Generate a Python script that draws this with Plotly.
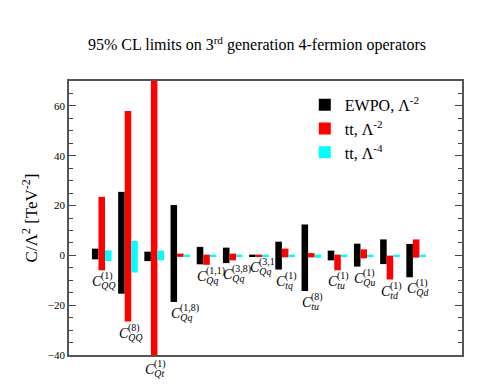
import plotly.graph_objects as go

# operator labels: (subscript, superscript)
op_sub = ["QQ", "QQ", "Qt", "Qq", "Qq", "Qq", "Qq", "tq", "tu", "tu", "Qu", "td", "Qd"]
op_sup = ["(1)", "(8)", "(1)", "(1,8)", "(1,1)", "(3,8)", "(3,1)", "(1)", "(8)", "(1)", "(1)", "(1)", "(1)"]
positions = list(range(1, 14))

# 95% CL intervals [low, high]
ewpo_low = [-1.6, -15.4, -2.3, -18.7, -3.6, -3.1, -0.4, -5.7, -14.3, -2.0, -4.5, -3.5, -8.8]
ewpo_high = [2.7, 25.5, 1.5, 20.2, 3.4, 3.1, 0.3, 5.5, 12.4, 1.9, 4.7, 6.4, 4.6]
tt2_low = [-6.0, -26.6, -90.0, -0.6, -3.8, -2.0, -0.4, -0.8, -0.8, -6.0, -1.2, -9.7, -0.9]
tt2_high = [23.5, 58.0, 90.0, 0.7, 0.3, 0.7, 0.3, 2.7, 0.9, 0.3, 2.4, -0.1, 6.4]
tt4_low = [-2.3, -6.9, -2.0, -0.4, -0.5, -0.5, -0.4, -0.5, -1.0, -0.5, -0.5, -0.5, -0.5]
tt4_high = [2.0, 5.8, 1.9, 0.3, 0.3, 0.3, 0.3, 0.3, 0.3, 0.3, 0.3, 0.3, 0.3]

FONT = "Liberation Serif"
Y_MIN, Y_MAX = -40, 70

series = [
    ("EWPO, Λ<sup>-2</sup>", ewpo_low, ewpo_high, "#000000", 0.0),
    ("tt, Λ<sup>-2</sup>", tt2_low, tt2_high, "#ff0000", 0.25),
    ("tt, Λ<sup>-4</sup>", tt4_low, tt4_high, "#00ffff", 0.5),
]

fig = go.Figure()
for name, low, high, color, shift in series:
    fig.add_trace(go.Bar(
        x=[p + shift for p in positions],
        y=[h - l for l, h in zip(low, high)],
        base=low,
        width=0.25,
        name=name,
        marker=dict(color=color, line=dict(width=0)),
    ))

# operator labels under each group: C with subscript, superscript stacked above the subscript
for i, pos in enumerate(positions):
    lowest = min(ewpo_low[i], tt2_low[i], tt4_low[i])
    y = max(lowest, Y_MIN)
    dy = -3 if y == Y_MIN else 0
    fig.add_annotation(
        x=pos + 0.2, y=y, text="<i>C</i><sub><i>" + op_sub[i] + "</i></sub>",
        showarrow=False, xanchor="left", yanchor="top", xshift=-10, yshift=dy - 2,
        font=dict(family=FONT, size=14, color="#000000"),
    )
    fig.add_annotation(
        x=pos + 0.2, y=y, text=op_sup[i],
        showarrow=False, xanchor="left", yanchor="top", xshift=-1, yshift=dy + 2,
        font=dict(family=FONT, size=10, color="#000000"),
    )

fig.update_layout(
    width=498, height=388,
    margin=dict(l=61, r=44, t=73, b=41),
    paper_bgcolor="white", plot_bgcolor="white",
    barmode="overlay",
    font=dict(family=FONT, color="#000000"),
    title=dict(
        text="95% CL limits on 3<sup>rd</sup> generation 4-fermion operators",
        x=0.5, xanchor="center", y=0.905, yanchor="middle",
        font=dict(family=FONT, size=16, color="#000000"),
    ),
    showlegend=True,
    legend=dict(
        x=0.6, y=0.975, xanchor="left", yanchor="top",
        bgcolor="rgba(0,0,0,0)", font=dict(family=FONT, size=16),
        itemwidth=30,
    ),
    xaxis=dict(
        range=[0, 15], showticklabels=False, ticks="", showgrid=False, zeroline=False,
        showline=True, linecolor="#555555", linewidth=1.5, mirror=True,
    ),
    yaxis=dict(
        range=[Y_MIN, Y_MAX], tickvals=[-40, -20, 0, 20, 40, 60],
        ticks="inside", ticklen=7, tickcolor="#444444", tickwidth=1,
        minor=dict(dtick=5, ticks="inside", ticklen=4, tickcolor="#444444"),
        showgrid=False, zeroline=False,
        showline=True, linecolor="#555555", linewidth=1.5, mirror="ticks",
        tickfont=dict(family=FONT, size=11),
        title=dict(text="C/Λ<sup>2</sup> [TeV<sup>-2</sup>]", font=dict(family=FONT, size=17), standoff=6),
    ),
)

fig.write_html("out.html")
